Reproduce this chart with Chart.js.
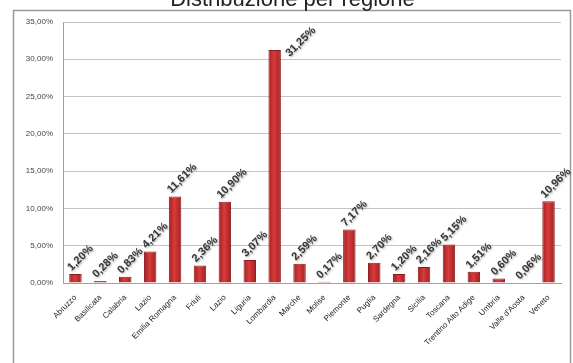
<!DOCTYPE html>
<html lang="it">

<head>
    <meta charset="UTF-8">
    <script src="https://cdn.jsdelivr.net/npm/chart.js"></script>
    <title>Distribuzione per regione</title>
    <style>
        body {
            margin: 0;
            background: #ffffff;
            overflow: hidden;
        }

        .grafico {
            position: absolute;
            left: 0;
            top: -13px;
            width: 573px;
            height: 376px;
        }
    </style>
</head>

<body>
    <div class="grafico">
        <canvas id="regioniChart"></canvas>
    </div>
</body>

</html>

<script>

    // Dati: quota percentuale per regione
    const regioni = ['Abruzzo', 'Basilicata', 'Calabria', 'Lazio', 'Emilia Romagna', 'Friuli', 'Lazio', 'Liguria',
        'Lombardia', 'Marche', 'Molise', 'Piemonte', 'Puglia', 'Sardegna', 'Sicilia', 'Toscana',
        'Trentino Alto Adige', 'Umbria', "Valle d'Aosta", 'Veneto'];
    const percentuali = [1.20, 0.28, 0.83, 4.21, 11.61, 2.36, 10.90, 3.07, 31.25, 2.59, 0.17, 7.17, 2.70, 1.20,
        2.16, 5.15, 1.51, 0.60, 0.06, 10.96];
    const maxAsseY = 35;
    const passoAsseY = 5;

    function formatta(v) {
        return Number(v).toFixed(2).replace('.', ',') + '%';
    }

    // riempimento delle barre: rosso più chiaro al centro
    function coloreBarra(c) {
        const chart = c.chart;
        const xs = chart.scales.x;
        if (!xs || c.dataIndex === undefined) return '#c52b2f';
        const cx = xs.getPixelForValue(c.dataIndex);
        if (!isFinite(cx)) return '#c52b2f';
        const g = chart.ctx.createLinearGradient(cx - 6, 0, cx + 6, 0);
        g.addColorStop(0, '#a51f23');
        g.addColorStop(0.45, '#d63c3b');
        g.addColorStop(1, '#a51f23');
        return g;
    }

    // cornice grigia attorno al grafico
    const cornice = {
        id: 'cornice',
        beforeDraw(chart) {
            const ctx = chart.ctx;
            ctx.save();
            ctx.strokeStyle = '#9a9a9a';
            ctx.lineWidth = 1.5;
            ctx.strokeRect(13.5, 23.5, 557, 400);
            ctx.restore();
        }
    };

    // etichette dei valori ruotate sopra le barre
    const etichetteValori = {
        id: 'etichetteValori',
        afterDatasetsDraw(chart) {
            const ctx = chart.ctx;
            const area = chart.chartArea;
            const barre = chart.getDatasetMeta(0).data;
            ctx.save();
            ctx.font = 'bold 11px "Liberation Sans"';
            ctx.fillStyle = '#363636';
            ctx.shadowColor = 'rgba(0, 0, 0, 0.35)';
            ctx.shadowBlur = 2;
            ctx.shadowOffsetX = 1;
            ctx.shadowOffsetY = 1;
            ctx.textAlign = 'left';
            ctx.textBaseline = 'middle';
            barre.forEach((barra, i) => {
                const testo = formatta(percentuali[i]);
                const alto = ctx.measureText(testo).width * 0.707;
                let x = barra.x - 6;
                let y = barra.y - 5;
                // se non entra sopra la barra va a destra
                if (y - alto < area.top) {
                    x = barra.x + 13;
                    y = barra.y + 5;
                }
                ctx.save();
                ctx.translate(x, y);
                ctx.rotate(-Math.PI / 4);
                ctx.fillText(testo, 0, 0);
                ctx.restore();
            });
            ctx.restore();
        }
    };

    const regioniChart = new Chart(document.getElementById('regioniChart'), {
        type: 'bar',
        data: {
            labels: regioni,
            datasets: [{
                data: percentuali,
                backgroundColor: coloreBarra,
                borderColor: '#8c1a1e',
                borderWidth: 1,
                barPercentage: 0.5,
                categoryPercentage: 1
            }]
        },
        options: {
            responsive: true,
            maintainAspectRatio: false,
            animation: false,
            layout: {
                padding: { left: 12, right: 0, top: 0, bottom: 0 }
            },
            plugins: {
                legend: { display: false },
                tooltip: { enabled: false },
                title: {
                    display: true,
                    text: 'Distribuzione per regione',
                    color: '#222',
                    font: { family: 'Liberation Sans', size: 22, weight: 'normal' },
                    padding: { top: 0, bottom: 8.6 }
                }
            },
            scales: {
                x: {
                    grid: { display: false },
                    border: { color: '#a0a0a0' },
                    ticks: {
                        autoSkip: false,
                        maxRotation: 45,
                        minRotation: 45,
                        color: '#222',
                        padding: 2,
                        font: { family: 'Liberation Sans', size: 8 }
                    },
                    afterFit(scale) {
                        scale.height = 80;
                    }
                },
                y: {
                    min: 0,
                    max: maxAsseY,
                    border: { color: '#a0a0a0' },
                    grid: { color: '#c4c4c4', drawTicks: false },
                    ticks: {
                        stepSize: passoAsseY,
                        color: '#444',
                        padding: 10,
                        font: { family: 'Liberation Sans', size: 8 },
                        callback: (v) => formatta(v)
                    },
                    afterFit(scale) {
                        scale.width = 51;
                    }
                },
                // asse vuoto a destra, solo per lo spazio
                margine: {
                    type: 'linear',
                    axis: 'y',
                    position: 'right',
                    min: 0,
                    max: maxAsseY,
                    grid: { drawOnChartArea: false, drawTicks: false },
                    border: { display: false },
                    ticks: { display: false },
                    afterFit(scale) {
                        scale.width = 12;
                    }
                }
            }
        },
        plugins: [cornice, etichetteValori]
    });

</script>
